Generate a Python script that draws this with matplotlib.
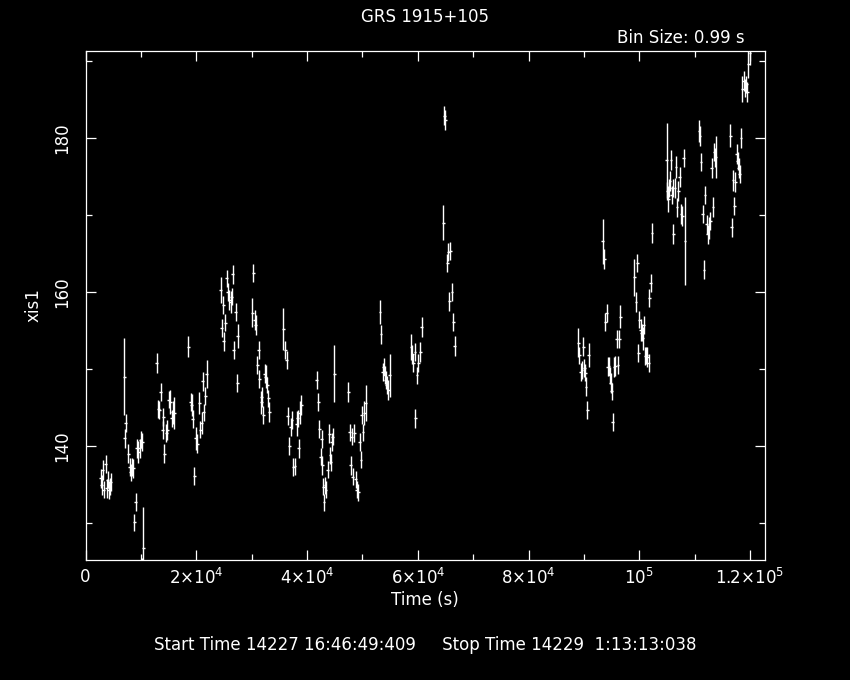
import numpy as np
import matplotlib
matplotlib.use("Agg")
import matplotlib.pyplot as plt
from matplotlib.ticker import FixedLocator, MultipleLocator

# --------------------------------------------------------------------------- #
#  Light curve values (time since start, rate, 1-sigma)
# --------------------------------------------------------------------------- #
TIME = np.array([
    2780, 2960, 3140, 3320, 3690, 3870, 4050, 4230, 4410, 4590,
    6990, 7120, 7260, 7710, 7960, 8150, 8330, 8610, 8800, 9050,
    9280, 9520, 9770, 10010, 10130, 10240, 10420,
    12890, 13130, 13310, 13620, 13920, 14030, 14210, 14570, 14750, 15060,
    15300, 15550, 15730, 16020,
    18550, 18980, 19160, 19400, 19630, 19940, 20170, 20530, 20710, 20970,
    21150, 21380, 21620, 21870,
    24400, 24630, 24870, 24990, 25230, 25480, 25720, 25950, 26200, 26380,
    26570, 26800, 27110, 27400, 27520,
    30100, 30290, 30540, 30770, 31010, 31260, 31370, 31730, 31860, 32090,
    32350, 32580, 32820, 33000, 33180,
    35700, 36070, 36320, 36550, 36790, 37040, 37280, 37510, 37820, 38120,
    38360, 38540, 38720, 38960,
    41740, 42030, 42210, 42460, 42640, 42750, 42930, 43060, 43240, 43420,
    43720, 44010, 44140, 44320, 44450, 44680, 44920,
    47440, 47700, 47930, 48060, 48290, 48530, 48780, 49010, 49250, 49500,
    49740, 49860, 50100, 50330, 50590,
    53170, 53350, 53660, 53840, 54070, 54250, 54430, 54670, 54920,
    58770, 59000, 59220, 59490, 59550, 59850, 60090, 60450, 60700,
    64600, 64780, 64960, 65320, 65500, 65680, 65860, 66170, 66410, 66660,
    88980, 89160, 89410, 89650, 89880, 90060, 90250, 90370, 90610, 90860,
    93390, 93680, 93860, 94110, 94290, 94530, 94700, 94830, 95020, 95190,
    95430, 95670, 95920, 96160, 96390, 96570,
    99100, 99400, 99640, 99820, 100000, 100250, 100430, 100610, 100790, 101030,
    101260, 101440, 101690, 101800, 102060, 102290,
    104940, 105050, 105230, 105410, 105540, 105720, 105850, 106030, 106140, 106450,
    106630, 106810, 107040, 107300, 107530, 107770, 108010, 108250,
    110780, 110960, 111140, 111450, 111680, 111860, 112170, 112350, 112590, 112820,
    113070, 113310, 113490, 113670, 113850,
    116430, 116690, 116920, 117150, 117340, 117590, 117770, 117950, 118130, 118370,
    118600, 118850, 119090, 119320, 119500, 119680, 119990,
])

RATE = np.array([
    135.8, 134.9, 136.9, 134.3, 137.7, 134.5, 135.6, 134.3, 134.8, 135.3,
    149.0, 141.0, 143.0, 139.0, 137.3, 136.6, 137.3, 137.1, 130.1, 132.7,
    139.7, 139.2, 139.7, 140.8, 123.5, 140.5, 126.8,
    150.8, 144.8, 144.7, 147.0, 142.1, 143.8, 139.0, 141.7, 142.1, 146.0,
    145.7, 143.6, 144.4, 144.3,
    152.9, 145.7, 145.3, 143.5, 136.1, 141.0, 140.3, 145.6, 142.1, 143.0,
    148.4, 144.4, 146.5, 149.4,
    160.3, 155.3, 158.3, 153.6, 156.0, 161.8, 160.0, 159.0, 158.7, 159.4,
    162.3, 152.5, 157.4, 148.2, 154.3,
    157.3, 162.5, 156.4, 155.7, 150.5, 152.5, 148.7, 145.7, 146.4, 144.0,
    149.4, 149.0, 147.9, 146.2, 144.4,
    155.2, 152.5, 151.2, 143.9, 140.0, 142.5, 143.4, 137.3, 137.4, 142.9,
    143.6, 139.7, 144.3, 145.3,
    148.6, 145.7, 142.2, 138.6, 140.9, 137.5, 134.7, 132.7, 134.9, 134.3,
    136.9, 141.6, 138.8, 137.9, 140.5, 141.2, 149.4,
    147.0, 141.8, 137.5, 141.2, 136.0, 141.7, 135.7, 134.3, 134.0, 140.5,
    138.2, 144.0, 141.8, 144.3, 145.6,
    157.4, 154.5, 149.6, 150.3, 149.2, 148.6, 147.9, 147.3, 149.2,
    152.9, 151.9, 150.8, 152.2, 143.6, 149.2, 150.8, 152.2, 155.5,
    169.0, 182.9, 182.3, 163.8, 165.2, 158.8, 165.3, 160.0, 156.1, 153.0,
    153.4, 151.8, 149.6, 149.9, 152.9, 150.1, 149.5, 147.7, 144.7, 151.8,
    166.6, 164.3, 156.1, 157.3, 150.3, 150.4, 149.2, 148.2, 147.1, 143.1,
    150.3, 150.4, 153.9, 150.5, 153.9, 156.8,
    161.9, 158.7, 163.8, 152.1, 156.4, 155.1, 154.7, 154.0, 155.7, 151.7,
    151.8, 151.6, 150.8, 159.2, 161.2, 167.7,
    177.1, 173.1, 172.1, 173.5, 174.4, 177.1, 172.6, 173.5, 167.5, 173.5,
    176.2, 171.0, 173.1, 174.9, 170.1, 169.9, 177.4, 166.6,
    180.9, 180.3, 176.9, 170.1, 162.9, 172.6, 168.8, 167.5, 168.3, 169.2,
    176.1, 171.0, 178.2, 177.5, 177.5,
    180.3, 168.4, 174.5, 171.2, 174.3, 177.9, 177.0, 176.1, 175.3, 180.0,
    186.4, 187.4, 186.5, 187.0, 186.0, 189.6, 191.0,
])

RATE_ERR = np.array([
    1.2, 1.3, 1.3, 1.1, 1.2, 1.2, 1.1, 1.2, 1.1, 1.2,
    5.0, 1.2, 1.2, 1.2, 1.2, 1.1, 1.2, 1.2, 1.1, 1.2,
    1.2, 1.4, 1.2, 1.1, 2.0, 1.2, 5.3,
    1.3, 1.2, 1.2, 1.2, 1.2, 1.2, 1.2, 1.2, 1.3, 1.1,
    1.6, 1.1, 1.5, 2.1,
    1.4, 1.2, 1.4, 1.2, 1.2, 1.5, 1.2, 1.4, 1.1, 1.4,
    1.2, 1.1, 1.2, 1.8,
    1.7, 1.2, 1.2, 1.2, 1.1, 1.1, 1.2, 1.3, 1.4, 1.1,
    1.2, 1.2, 1.2, 1.2, 1.6,
    1.9, 1.2, 1.3, 1.3, 1.2, 1.2, 1.2, 1.5, 1.3, 1.2,
    1.2, 1.5, 1.0, 1.1, 1.3,
    2.7, 1.2, 1.2, 1.2, 1.2, 1.2, 1.2, 1.2, 1.1, 1.6,
    1.1, 1.2, 1.5, 1.3,
    1.2, 1.2, 1.2, 1.1, 1.2, 1.2, 1.1, 1.1, 1.1, 1.1,
    1.1, 1.2, 1.1, 1.1, 1.2, 1.1, 3.7,
    1.3, 1.1, 1.2, 1.1, 1.1, 1.2, 1.1, 1.1, 1.1, 1.2,
    1.1, 1.2, 1.1, 1.6, 2.3,
    1.5, 1.2, 1.2, 1.1, 1.2, 1.2, 1.2, 1.3, 2.8,
    1.7, 1.2, 1.2, 1.2, 1.2, 1.1, 1.2, 1.3, 1.3,
    2.3, 1.2, 1.3, 1.2, 1.2, 1.2, 1.2, 1.2, 1.2, 1.3,
    1.9, 1.1, 1.2, 1.2, 1.2, 1.2, 1.1, 1.2, 1.2, 1.6,
    2.9, 1.3, 1.2, 1.2, 1.2, 1.2, 1.1, 1.3, 1.1, 1.2,
    1.3, 1.3, 1.2, 1.2, 1.2, 1.5,
    2.4, 1.3, 1.2, 1.2, 1.1, 1.4, 1.1, 1.5, 1.2, 1.2,
    1.1, 1.3, 1.2, 1.2, 1.2, 1.3,
    4.9, 1.2, 1.7, 1.2, 1.3, 1.3, 1.2, 1.2, 1.3, 1.3,
    1.4, 1.2, 1.3, 1.3, 1.3, 1.3, 1.2, 5.7,
    1.4, 1.3, 1.2, 1.2, 1.2, 1.2, 1.2, 1.2, 1.4, 1.2,
    1.3, 1.3, 1.2, 1.2, 2.7,
    1.5, 1.2, 1.4, 1.2, 1.3, 1.3, 1.2, 1.3, 1.2, 1.3,
    1.7, 1.3, 1.2, 1.1, 1.3, 1.8, 1.5,
])

XTICKS = [0, 2e4, 4e4, 6e4, 8e4, 1e5, 1.2e5]
XTICK_LABELS = ["0", r"2$\times$10$^{4}$", r"4$\times$10$^{4}$",
                r"6$\times$10$^{4}$", r"8$\times$10$^{4}$", r"10$^{5}$",
                r"1.2$\times$10$^{5}$"]
YTICKS = [140, 160, 180]
YTICK_LABELS = ["140", "160", "180"]

TITLE = "GRS 1915+105"
BIN_TEXT = "Bin Size: 0.99 s"
TIME_TEXT = "Start Time 14227 16:46:49:409     Stop Time 14229  1:13:13:038"

HALF_BIN = 260.0   # drawn x half-width of each point (s)

# --------------------------------------------------------------------------- #
#  Plot
# --------------------------------------------------------------------------- #
FG = "white"
plt.rcParams["font.family"] = ["DejaVu Sans"]
plt.rcParams["mathtext.default"] = "regular"

W, H = 850, 680
fig = plt.figure(figsize=(W / 100, H / 100), dpi=100, facecolor="black")
ax = fig.add_axes([85.5 / W, 1 - 560 / H, (765 - 85.5) / W, (560 - 51) / H])
ax.set_facecolor("black")

ax.errorbar(TIME, RATE, yerr=RATE_ERR, xerr=HALF_BIN, fmt="none",
            ecolor=FG, elinewidth=1.0, capsize=0)

ax.set_xlim(0, 122700)
ax.set_ylim(125.2, 191.3)

for sp in ax.spines.values():
    sp.set_color(FG)
    sp.set_linewidth(0.9)

ax.xaxis.set_major_locator(FixedLocator(XTICKS))
ax.xaxis.set_minor_locator(MultipleLocator(1e4))
ax.yaxis.set_major_locator(FixedLocator(YTICKS))
ax.yaxis.set_minor_locator(MultipleLocator(10))
ax.set_xticklabels(XTICK_LABELS)
ax.set_yticklabels(YTICK_LABELS, rotation=90, va="center")

ax.tick_params(which="both", direction="in", top=True, right=True,
               colors=FG, width=0.9, labelsize=12)
ax.tick_params(which="major", length=7, pad=6)
ax.tick_params(axis="y", which="major", pad=10)
ax.tick_params(which="minor", length=4)

ax.set_xlabel("Time (s)", color=FG, fontsize=12, labelpad=2)
ax.set_ylabel("xis1", color=FG, fontsize=12, labelpad=8)

fig.text(425 / W, 1 - 17 / H, TITLE, color=FG, fontsize=12,
         ha="center", va="center")
fig.text(745 / W, 1 - 38 / H, BIN_TEXT, color=FG, fontsize=12,
         ha="right", va="center")
fig.text(425 / W, 1 - 645 / H, TIME_TEXT, color=FG, fontsize=12,
         ha="center", va="center")

fig.savefig("out.png", dpi=100, facecolor="black")
